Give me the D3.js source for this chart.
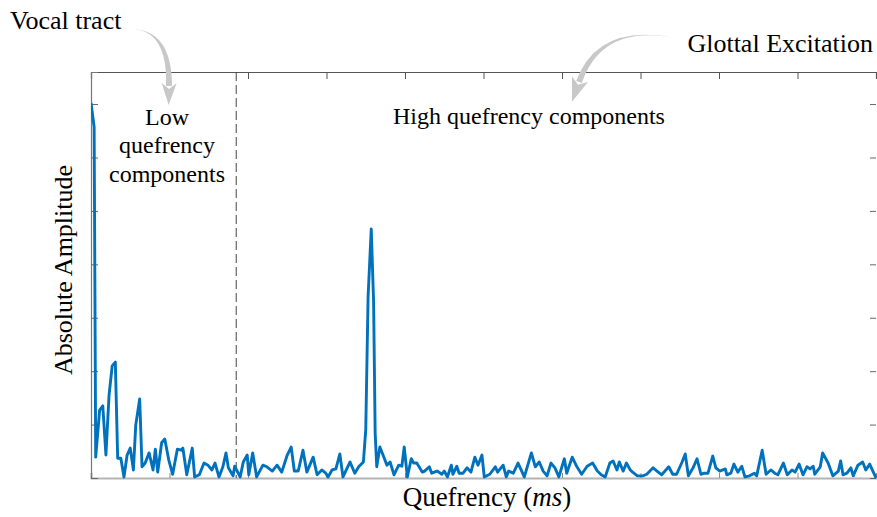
<!DOCTYPE html>
<html><head><meta charset="utf-8">
<script src="https://cdn.jsdelivr.net/npm/d3@7"></script>
<style>
html,body{margin:0;padding:0;background:#fff;}
text{font-family:"Liberation Serif","Times New Roman",serif;fill:#000;}
</style></head>
<body>
<svg id="chart" width="877" height="517"></svg>
<script>
// Quefrency (ms) and absolute cepstral amplitude
const quefrency = [0,0.04,0.06,0.11,0.15,0.19,0.23,0.27,0.31,0.34,0.38,0.42,0.46,0.50,0.54,0.57,0.62,0.65,0.69,0.74,0.79,0.82,0.85,0.90,0.94,0.99,1.04,1.10,1.15,1.17,1.22,1.29,1.32,1.38,1.44,1.49,1.54,1.58,1.63,1.68,1.72,1.75,1.81,1.83,1.90,1.94,1.99,2.01,2.06,2.11,2.19,2.24,2.31,2.37,2.43,2.50,2.55,2.59,2.64,2.70,2.75,2.83,2.88,2.94,2.99,3.02,3.07,3.12,3.17,3.21,3.30,3.36,3.41,3.47,3.50,3.53,3.57,3.60,3.62,3.64,3.68,3.72,3.77,3.81,3.86,3.92,3.96,3.99,4.03,4.08,4.11,4.15,4.22,4.25,4.31,4.34,4.41,4.47,4.50,4.54,4.59,4.61,4.66,4.69,4.74,4.79,4.84,4.89,4.93,4.98,5.01,
5.08,5.15,5.18,5.25,5.29,5.32,5.38,5.44,5.52,5.61,5.66,5.71,5.76,5.81,5.86,5.91,5.96,6.03,6.06,6.13,6.19,6.25,6.32,6.39,6.45,6.50,6.55,6.61,6.65,6.70,6.73,6.78,6.82,6.87,6.90,6.96,7.03,7.08,7.16,7.21,7.27,7.36,7.41,7.46,7.53,7.57,7.61,7.67,7.72,7.77,7.81,7.86,7.92,7.96,8.01,8.08,8.10,8.15,8.19,8.24,8.29,8.33,8.39,8.45,8.48,8.55,8.60,8.66,8.71,8.75,8.82,8.87,8.93,8.97,9.02,9.07,9.12,9.16,9.20,9.22,9.29,9.32,9.39,9.45,9.52,9.55,9.58,9.63,9.68,9.71,9.77,9.83,9.87,9.92,9.96,10.0];
const amplitude = [7.02,6.57,0.39,1.27,1.35,0.43,1.55,2.10,2.17,0.37,0.37,0.02,0.43,0.56,0.15,0.99,1.48,0.21,0.28,0.47,0.15,0.54,0.11,0.66,0.73,0.34,0.07,0.54,0.52,0.56,0.06,0.56,0.02,0.06,0.28,0.24,0.15,0.28,0.02,0.21,0.47,0.19,0.04,0.22,0.02,0.30,0.43,0.06,0.47,0.02,0.24,0.21,0.13,0.24,0.11,0.43,0.58,0.13,0.13,0.52,0.11,0.39,0.06,0.15,0.09,0.02,0.15,0.17,0.45,0.02,0.30,0.09,0.21,0.30,0.90,3.40,4.66,3.30,0.84,0.21,0.58,0.43,0.24,0.30,0.06,0.24,0.22,0.58,0.02,0.36,0.28,0.28,0.11,0.13,0.21,0.09,0.13,0.07,0.13,0.02,0.24,0.07,0.22,0.09,0.09,0.19,0.11,0.39,0.24,0.43,0.02,
0.07,0.21,0.11,0.24,0.02,0.13,0.09,0.28,0.02,0.47,0.21,0.30,0.13,0.04,0.28,0.19,0.02,0.36,0.09,0.39,0.21,0.07,0.22,0.28,0.13,0.06,0.02,0.28,0.32,0.15,0.30,0.13,0.28,0.15,0.11,0.04,0.04,0.07,0.19,0.13,0.06,0.21,0.07,0.07,0.30,0.45,0.04,0.19,0.36,0.07,0.09,0.09,0.41,0.19,0.13,0.17,0.06,0.09,0.26,0.11,0.22,0.02,0.04,0.09,0.04,0.52,0.07,0.15,0.09,0.06,0.28,0.06,0.15,0.11,0.26,0.06,0.21,0.17,0.22,0.07,0.21,0.47,0.28,0.04,0.13,0.32,0.06,0.09,0.19,0.04,0.24,0.30,0.15,0.26,0.13,0.0];
const xTicks = [0,1,2,3,4,5,6,7,8,9,10];
const yTicks = [0,1,2,3,4,5,6,7];
const boundary = 1.85; // low / high quefrency split (ms)

const svg = d3.select("#chart");
const L = 91, R = 876, T = 72, B = 478;
const x = d3.scaleLinear().domain([0, 10]).range([L, R]);
const y = d3.scaleLinear().domain([0, 7.6]).range([B, T]);

// axes (inward ticks, no labels)
const gB = svg.append("g").attr("transform", `translate(0,${B})`)
  .call(d3.axisBottom(x).tickValues(xTicks).tickSize(-5).tickFormat(""));
gB.select(".domain").attr("stroke", "#b4b4b4").attr("stroke-width", 2);
gB.selectAll(".tick line").attr("stroke", "#8a8a8a");

const gT = svg.append("g").attr("transform", `translate(0,${T})`)
  .call(d3.axisTop(x).tickValues(xTicks).tickSize(-7).tickFormat(""));
gT.select(".domain").attr("stroke", "#555").attr("stroke-width", 1.2);
gT.selectAll(".tick line").attr("stroke", "#555");

const gL = svg.append("g").attr("transform", `translate(${L},0)`)
  .call(d3.axisLeft(y).tickValues(yTicks).tickSize(-7).tickFormat(""));
gL.select(".domain").attr("stroke", "#777").attr("stroke-width", 1.2);
gL.selectAll(".tick line").attr("stroke", "#666");

const gR = svg.append("g").attr("transform", `translate(${R},0)`)
  .call(d3.axisRight(y).tickValues(yTicks).tickSize(-6).tickFormat(""));
gR.select(".domain").remove();
gR.selectAll(".tick line").attr("stroke", "#666");

// dashed boundary
svg.append("line")
  .attr("x1", x(boundary)).attr("x2", x(boundary))
  .attr("y1", T).attr("y2", B)
  .attr("stroke", "#444").attr("stroke-width", 1)
  .attr("stroke-dasharray", "9,4");

// cepstrum line
svg.append("defs").append("clipPath").attr("id", "clip")
  .append("rect").attr("x", L).attr("y", T - 5).attr("width", R - L + 2).attr("height", B - T + 6);
const pts = quefrency.map((q, i) => [q, amplitude[i]]);
svg.append("path")
  .attr("clip-path", "url(#clip)")
  .attr("d", d3.line().x(d => x(d[0])).y(d => y(d[1]))(pts))
  .attr("fill", "none").attr("stroke", "#0072BD").attr("stroke-width", 2.9)
  .attr("stroke-linejoin", "round");

// texts
svg.append("text").attr("x", 10).attr("y", 29).attr("font-size", 26).text("Vocal tract");
svg.append("text").attr("x", 873).attr("y", 52).attr("font-size", 26).attr("text-anchor", "end").text("Glottal Excitation");
const low = svg.append("text").attr("font-size", 24).attr("text-anchor", "middle");
[["Low", 125], ["quefrency", 153], ["components", 182]].forEach(([t, yy]) =>
  low.append("tspan").attr("x", 167).attr("y", yy).text(t));
svg.append("text").attr("x", 529).attr("y", 124).attr("font-size", 24).attr("text-anchor", "middle").text("High quefrency components");

const xl = svg.append("text").attr("x", 487).attr("y", 506).attr("font-size", 27).attr("text-anchor", "middle");
xl.append("tspan").text("Quefrency (");
xl.append("tspan").attr("font-style", "italic").text("ms");
xl.append("tspan").text(")");
svg.append("text").attr("transform", "translate(72,270) rotate(-90)").attr("font-size", 26)
  .attr("text-anchor", "middle").text("Absolute Amplitude");

// curved tapered arrows
function arrow(S, C, E, headLen, headHalf, w) {
  let dx = E[0] - C[0], dy = E[1] - C[1];
  const len = Math.hypot(dx, dy); dx /= len; dy /= len;
  const nx = -dy, ny = dx;
  const E1 = [E[0] + nx * w / 2, E[1] + ny * w / 2];
  const E2 = [E[0] - nx * w / 2, E[1] - ny * w / 2];
  const C1 = [C[0] + nx * w * 0.35, C[1] + ny * w * 0.35];
  const C2 = [C[0] - nx * w * 0.35, C[1] - ny * w * 0.35];
  const p = d3.path();
  p.moveTo(S[0], S[1]);
  p.quadraticCurveTo(C1[0], C1[1], E1[0], E1[1]);
  p.lineTo(E2[0], E2[1]);
  p.quadraticCurveTo(C2[0], C2[1], S[0], S[1]);
  p.closePath();
  svg.append("path").attr("d", p.toString()).attr("fill", "#c8c8c8");
  const tip = [E[0] + dx * headLen, E[1] + dy * headLen];
  const back = [E[0] - dx * 3, E[1] - dy * 3];
  const h = d3.path();
  h.moveTo(tip[0], tip[1]);
  h.lineTo(back[0] + nx * headHalf, back[1] + ny * headHalf);
  h.lineTo(E[0] + dx * 3, E[1] + dy * 3);
  h.lineTo(back[0] - nx * headHalf, back[1] - ny * headHalf);
  h.closePath();
  svg.append("path").attr("d", h.toString()).attr("fill", "#c8c8c8");
}
arrow([130, 29], [170, 29], [169, 86], 19, 7.5, 6);
arrow([675, 38], [600, 23], [579, 82], 21, 8.5, 6);
</script>
</body></html>
